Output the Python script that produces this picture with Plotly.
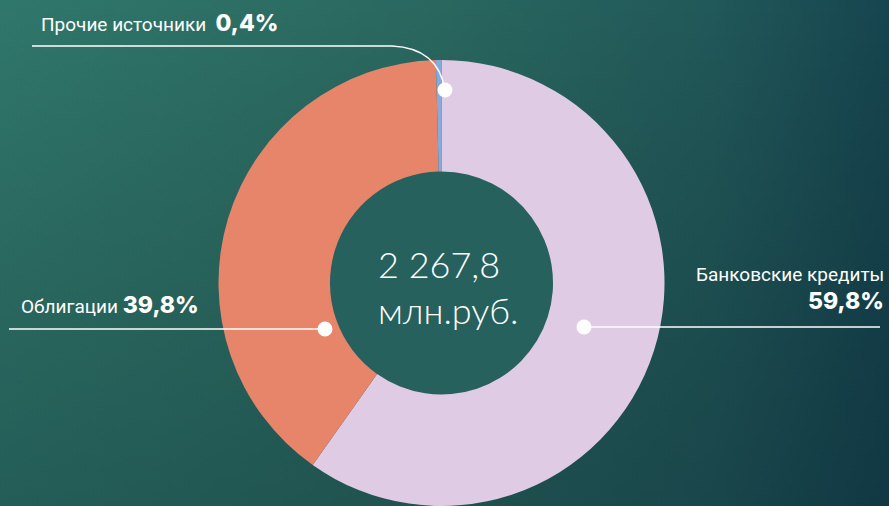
import base64
import plotly.graph_objects as go

W, H = 889, 506

labels = ["Банковские кредиты", "Облигации", "Прочие источники"]
shares = [59.8, 39.8, 0.4]
share_text = ["59,8%", "39,8%", "0,4%"]
slice_colors = ["#e0cbe5", "#e6856a", "#87a9dc"]
total_text = "2 267,8"
unit_text = "млн.руб."


def px(x):
    return x / W


def py(y):
    return 1 - y / H


svg = f'''<svg xmlns="http://www.w3.org/2000/svg" width="{W}" height="{H}" viewBox="0 0 {W} {H}" preserveAspectRatio="none">
<defs>
<linearGradient id="h" x1="0" y1="0" x2="1" y2="0">
<stop offset="0" stop-color="#30776b"/>
<stop offset="0.5" stop-color="#29675f"/>
<stop offset="0.8" stop-color="#215859"/>
<stop offset="1" stop-color="#16454f"/>
</linearGradient>
<linearGradient id="v" x1="0" y1="0" x2="0" y2="1">
<stop offset="0" stop-color="#000000" stop-opacity="0"/>
<stop offset="1" stop-color="#001020" stop-opacity="0.25"/>
</linearGradient>
</defs>
<rect width="{W}" height="{H}" fill="url(#h)"/>
<rect width="{W}" height="{H}" fill="url(#v)"/>
</svg>'''
bg_src = "data:image/svg+xml;base64," + base64.b64encode(svg.encode()).decode()

# pie geometry (pixels)
cx, r = 441.5, 223.0
top = 60.0

fig = go.Figure()
fig.add_trace(go.Pie(
    labels=labels,
    values=shares,
    sort=False,
    direction="clockwise",
    rotation=0,
    hole=0.5,
    textinfo="none",
    hoverinfo="label+percent",
    marker=dict(colors=slice_colors, line=dict(width=0)),
    domain=dict(x=[px(cx - r), px(cx + r)], y=[0, py(top)]),
    showlegend=False,
))

cy = top + r
hr = r * 0.5
shapes = [
    dict(type="circle", xref="paper", yref="paper", layer="below",
         x0=px(cx - hr), x1=px(cx + hr), y0=py(cy + hr), y1=py(cy - hr),
         fillcolor="#27615d", line=dict(width=0)),
]

line_style = dict(color="white", width=1.5)
# leader lines
shapes.append(dict(type="path", xref="paper", yref="paper",
                   path=f"M {px(32)} {py(46)} L {px(392)} {py(46)} Q {px(438)} {py(48)} {px(445)} {py(90)}",
                   line=line_style))
shapes.append(dict(type="line", xref="paper", yref="paper",
                   x0=px(9), x1=px(325), y0=py(329), y1=py(329), line=line_style))
shapes.append(dict(type="line", xref="paper", yref="paper",
                   x0=px(584), x1=px(880), y0=py(327), y1=py(327), line=line_style))

# dots
for (dx, dy) in [(445, 90), (325, 329), (584, 327)]:
    rr = 7.5
    shapes.append(dict(type="circle", xref="paper", yref="paper",
                       x0=px(dx - rr), x1=px(dx + rr), y0=py(dy + rr), y1=py(dy - rr),
                       fillcolor="white", line=dict(width=0)))

lab_font = dict(family="Roboto", size=19, color="white")
pct_style = "font-family:Inter;font-weight:800;font-size:23px"

annotations = [
    dict(xref="paper", yref="paper", x=px(39), y=py(23), xanchor="left", yanchor="middle",
         text=f"{labels[2]}  <span style='{pct_style}'>{share_text[2]}</span>",
         showarrow=False, font=lab_font),
    dict(xref="paper", yref="paper", x=px(19), y=py(305), xanchor="left", yanchor="middle",
         text=f"{labels[1]} <span style='{pct_style}'>{share_text[1]}</span>",
         showarrow=False, font=lab_font),
    dict(xref="paper", yref="paper", x=px(886), y=py(274), xanchor="right", yanchor="middle",
         text=labels[0], showarrow=False, font=lab_font),
    dict(xref="paper", yref="paper", x=px(886), y=py(301), xanchor="right", yanchor="middle",
         text=f"<span style='{pct_style}'>{share_text[0]}</span>",
         showarrow=False, font=lab_font),
    dict(xref="paper", yref="paper", x=px(376), y=py(264), xanchor="left", yanchor="middle",
         text=total_text, showarrow=False,
         font=dict(family="Lato", size=36, color="white", weight=300)),
    dict(xref="paper", yref="paper", x=px(376), y=py(310), xanchor="left", yanchor="middle",
         text=unit_text, showarrow=False,
         font=dict(family="Lato", size=36, color="white", weight=300)),
]

fig.update_layout(
    width=W, height=H,
    margin=dict(l=0, r=0, t=0, b=0),
    paper_bgcolor="#27635e",
    plot_bgcolor="rgba(0,0,0,0)",
    images=[dict(source=bg_src, xref="paper", yref="paper", x=0, y=1, sizex=1, sizey=1,
                 xanchor="left", yanchor="top", sizing="stretch", layer="below")],
    shapes=shapes,
    annotations=annotations,
    showlegend=False,
)

fig.write_html(
    "out.html",
    config={"displayModeBar": False},
    post_script="document.body.style.margin='0';document.body.style.overflow='hidden';",
)
